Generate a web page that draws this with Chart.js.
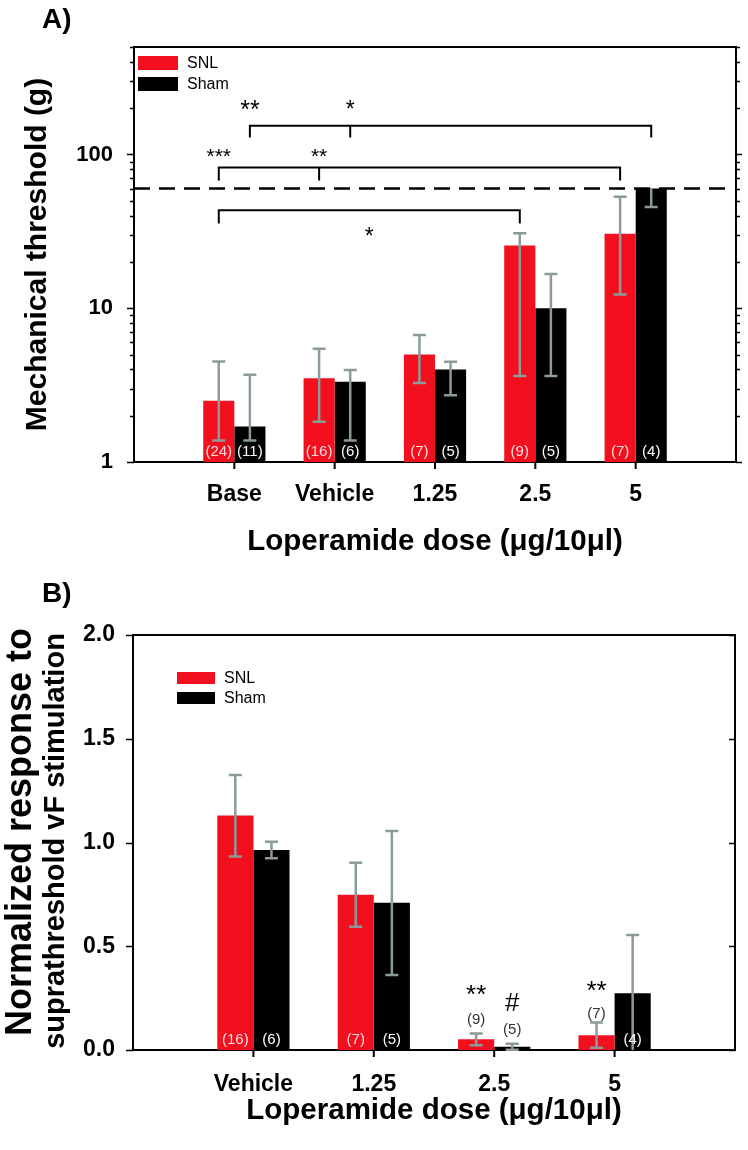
<!DOCTYPE html>
<html>
<head>
<meta charset="utf-8">
<script src="https://cdn.jsdelivr.net/npm/chart.js@4.4.1/dist/chart.umd.min.js"></script>
<style>
  html, body { margin: 0; padding: 0; background: #fff; }
  #page { position: relative; width: 748px; height: 1150px; }
  canvas { position: absolute; left: 0; }
  #chart-a { top: 0; }
  #chart-b { top: 575px; }
</style>
</head>
<body>
<div id="page">
  <canvas id="chart-a" width="748" height="575"></canvas>
  <canvas id="chart-b" width="748" height="575"></canvas>
</div>
<script>
// ---- Panel A: mechanical threshold (log axis) ----
const doseA = ['Base', 'Vehicle', '1.25', '2.5', '5'];
const snlThreshold   = [2.5, 3.5, 5.0, 25.6, 30.5];
const snlThresholdHi = [4.5, 5.45, 6.7, 30.7, 53];
const snlThresholdLo = [1.38, 1.83, 3.27, 3.63, 12.3];
const shamThreshold   = [1.7, 3.33, 4.0, 10.0, 60];
const shamThresholdHi = [3.7, 3.96, 4.48, 16.7, 60];
const shamThresholdLo = [1.38, 1.38, 2.72, 3.63, 45.5];
const snlCountA  = ['(24)', '(16)', '(7)', '(9)', '(7)'];
const shamCountA = ['(11)', '(6)', '(5)', '(5)', '(4)'];
const thresholdTicks = [1, 2, 3, 4, 5, 6, 7, 8, 9, 10, 20, 30, 40, 50, 60, 70, 80, 90, 100, 200, 300, 400, 500];
const thresholdLabels = [1, 10, 100];
const cutoffThreshold = 60;

// brackets of panel A (series 0 = SNL, 1 = Sham; doses are indexes into doseA)
const bracketSeriesA = [1, 0, 0];
const bracketDosesA  = [[0, 1, 4], [0, 1, 4], [0, 3]];
const bracketLevelA  = [154, 82.4, 43.3];
const bracketDropA   = [129, 67.8, 35.6];
const starTextA   = ['**', '*', '***', '**', '*'];
const starSeriesA = [1, 1, 0, 0, 0];
const starDoseA   = [0, 1, 0, 1, 1.5];
const starValueA  = [214, 214, 105, 105, 32.1];
const starSizeA   = [25, 23, 21, 21, 23];

// ---- Panel B: normalized response (linear axis) ----
const doseB = ['Vehicle', '1.25', '2.5', '5'];
const snlResponse   = [1.13, 0.748, 0.052, 0.071];
const snlResponseHi = [1.325, 0.903, 0.079, 0.132];
const snlResponseLo = [0.933, 0.594, 0.023, 0.011];
const shamResponse   = [0.964, 0.71, 0.016, 0.274];
const shamResponseHi = [1.004, 1.055, 0.03, 0.554];
const shamResponseLo = [0.924, 0.361, 0.001, 0];
const snlCountB  = ['(16)', '(7)', '(9)', '(7)'];
const shamCountB = ['(6)', '(5)', '(5)', '(4)'];
const snlCountAtB  = [null, null, 0.145, 0.173];   // null = inside the bar
const shamCountAtB = [null, null, 0.096, null];
const responseTicks = [0, 0.5, 1.0, 1.5, 2.0];
const starTextB   = ['**', '#', '**'];
const starSeriesB = [0, 1, 0];
const starDoseB   = [2, 2, 3];
const starValueB  = [0.299, 0.231, 0.318];

const COLOR_SNL = '#f2101f';
const COLOR_SHAM = '#000000';
const COLOR_ERR = '#8b9a9a';
const FONT = "'Liberation Sans', Arial, sans-serif";
const CAP = 6.5;

const pad = arr => [null, ...arr, null];

// x of the bar of a series at a (possibly fractional) dose index
function barX(chart, series, dose) {
    const x = chart.scales.x;
    const bar = chart.getDatasetMeta(series).data[1];
    const shift = bar.x - x.getPixelForValue(1);
    return x.getPixelForValue(dose + 1) + shift;
}

function drawErrorBars(chart, series, values, hi, lo) {
    const ctx = chart.ctx;
    const y = chart.scales.y;
    const bars = chart.getDatasetMeta(series).data;
    ctx.save();
    ctx.strokeStyle = COLOR_ERR;
    ctx.lineWidth = 2.5;
    values.forEach((v, i) => {
        const x = bars[i + 1].x;
        const yHi = y.getPixelForValue(hi[i]);
        const yLo = lo[i] > 0 ? y.getPixelForValue(lo[i]) : y.bottom;
        ctx.beginPath();
        ctx.moveTo(x, yLo);
        ctx.lineTo(x, yHi);
        if (hi[i] > v) { ctx.moveTo(x - CAP, yHi); ctx.lineTo(x + CAP, yHi); }
        if (lo[i] > 0) { ctx.moveTo(x - CAP, yLo); ctx.lineTo(x + CAP, yLo); }
        ctx.stroke();
    });
    ctx.restore();
}

function drawCounts(chart, series, labels, at, color) {
    const ctx = chart.ctx;
    const bars = chart.getDatasetMeta(series).data;
    ctx.save();
    ctx.font = `15px ${FONT}`;
    ctx.textAlign = 'center';
    ctx.textBaseline = 'middle';
    labels.forEach((t, i) => {
        const x = bars[i + 1].x;
        if (at && at[i] !== null) {
            ctx.fillStyle = '#333';
            ctx.fillText(t, x, chart.scales.y.getPixelForValue(at[i]));
        } else {
            ctx.fillStyle = color;
            ctx.fillText(t, x, chart.chartArea.bottom - 10.5);
        }
    });
    ctx.restore();
}

// symbols centred on their glyph, not on the em box
function drawMark(ctx, text, x, yc, size) {
    ctx.save();
    ctx.fillStyle = '#000';
    ctx.textAlign = 'center';
    ctx.textBaseline = 'alphabetic';
    ctx.font = `${size}px ${FONT}`;
    const lift = text === '#' ? 0.35 : 0.58;
    ctx.fillText(text, x, yc + lift * size);
    ctx.restore();
}

function drawFrame(chart) {
    const ctx = chart.ctx;
    const a = chart.chartArea;
    ctx.save();
    ctx.strokeStyle = '#000';
    ctx.lineWidth = 2;
    ctx.beginPath();
    ctx.moveTo(a.left, a.top);
    ctx.lineTo(a.right, a.top);
    ctx.lineTo(a.right, a.bottom);
    ctx.stroke();
    // category ticks under the x axis
    const x = chart.scales.x;
    ctx.beginPath();
    for (let i = 1; i < chart.data.labels.length - 1; i++) {
        const px = x.getPixelForValue(i);
        ctx.moveTo(px, a.bottom);
        ctx.lineTo(px, a.bottom + 7);
    }
    ctx.stroke();
    ctx.restore();
}

function drawLegend(ctx, x, y, w, h, gap, size) {
    ctx.save();
    ctx.font = `${size}px ${FONT}`;
    ctx.textBaseline = 'middle';
    ctx.textAlign = 'left';
    [['SNL', COLOR_SNL], ['Sham', COLOR_SHAM]].forEach(([t, c], i) => {
        const top = y + i * (h + gap);
        ctx.fillStyle = c;
        ctx.fillRect(x, top, w, h);
        ctx.fillStyle = '#000';
        ctx.fillText(t, x + w + 9, top + h / 2 + 1);
    });
    ctx.restore();
}

function drawTag(ctx, text, x, baseline) {
    ctx.save();
    ctx.font = `bold 28px ${FONT}`;
    ctx.fillStyle = '#000';
    ctx.textBaseline = 'alphabetic';
    ctx.fillText(text, x, baseline);
    ctx.restore();
}

function drawRotated(ctx, text, x, y, size) {
    ctx.save();
    ctx.fillStyle = '#000';
    ctx.textAlign = 'center';
    ctx.textBaseline = 'alphabetic';
    ctx.translate(x, y);
    ctx.rotate(-Math.PI / 2);
    ctx.font = `bold ${size}px ${FONT}`;
    ctx.fillText(text, 0, 0);
    ctx.restore();
}

const panelAPlugin = {
    id: 'panelA',
    afterDraw(chart) {
        const ctx = chart.ctx;
        const a = chart.chartArea;
        const y = chart.scales.y;
        drawFrame(chart);

        // log ticks on both sides
        ctx.save();
        ctx.strokeStyle = '#000';
        ctx.lineWidth = 1.5;
        ctx.beginPath();
        thresholdTicks.forEach(v => {
            const py = Math.round(y.getPixelForValue(v)) + 0.5;
            const major = thresholdLabels.includes(v);
            ctx.moveTo(a.left - (major ? 7 : 4), py);
            ctx.lineTo(a.left, py);
            ctx.moveTo(a.right, py);
            ctx.lineTo(a.right + (major ? 6 : 4), py);
        });
        ctx.stroke();
        ctx.restore();

        drawErrorBars(chart, 0, snlThreshold, snlThresholdHi, snlThresholdLo);
        drawErrorBars(chart, 1, shamThreshold, shamThresholdHi, shamThresholdLo);
        drawCounts(chart, 0, snlCountA, null, 'rgba(255,255,255,0.85)');
        drawCounts(chart, 1, shamCountA, null, '#fff');

        // 60 g cut-off
        ctx.save();
        ctx.strokeStyle = '#000';
        ctx.lineWidth = 2.5;
        ctx.setLineDash([16, 9]);
        const cy = y.getPixelForValue(cutoffThreshold);
        ctx.beginPath();
        ctx.moveTo(a.left, cy);
        ctx.lineTo(a.right - 6, cy);
        ctx.stroke();
        ctx.restore();

        // significance brackets
        ctx.save();
        ctx.strokeStyle = '#000';
        ctx.lineWidth = 2;
        bracketSeriesA.forEach((s, b) => {
            const yl = y.getPixelForValue(bracketLevelA[b]);
            const yd = y.getPixelForValue(bracketDropA[b]);
            const xs = bracketDosesA[b].map(d => barX(chart, s, d));
            ctx.beginPath();
            ctx.moveTo(xs[0], yd);
            ctx.lineTo(xs[0], yl);
            ctx.lineTo(xs[xs.length - 1], yl);
            ctx.lineTo(xs[xs.length - 1], yd);
            xs.slice(1, -1).forEach(px => { ctx.moveTo(px, yl); ctx.lineTo(px, yd); });
            ctx.stroke();
        });
        ctx.restore();
        starTextA.forEach((t, i) => {
            drawMark(ctx, t, barX(chart, starSeriesA[i], starDoseA[i]), y.getPixelForValue(starValueA[i]), starSizeA[i]);
        });

        drawLegend(ctx, 138, 56, 40, 14, 7, 16);
        drawTag(ctx, 'A)', 42, 28);
    }
};

const panelBPlugin = {
    id: 'panelB',
    afterDraw(chart) {
        const ctx = chart.ctx;
        const a = chart.chartArea;
        const y = chart.scales.y;
        drawFrame(chart);

        ctx.save();
        ctx.strokeStyle = '#000';
        ctx.lineWidth = 1.5;
        ctx.beginPath();
        responseTicks.forEach(v => {
            const py = Math.round(y.getPixelForValue(v)) + 0.5;
            ctx.moveTo(a.left - 7, py);
            ctx.lineTo(a.left, py);
            ctx.moveTo(a.right - 6, py);
            ctx.lineTo(a.right, py);
        });
        ctx.stroke();
        ctx.restore();

        drawErrorBars(chart, 0, snlResponse, snlResponseHi, snlResponseLo);
        drawErrorBars(chart, 1, shamResponse, shamResponseHi, shamResponseLo);
        drawCounts(chart, 0, snlCountB, snlCountAtB, 'rgba(255,255,255,0.85)');
        drawCounts(chart, 1, shamCountB, shamCountAtB, '#fff');
        starTextB.forEach((t, i) => {
            drawMark(ctx, t, barX(chart, starSeriesB[i], starDoseB[i]), y.getPixelForValue(starValueB[i]), 26);
        });

        // two-line y title, first line set larger as in the figure
        drawRotated(ctx, 'Normalized response to', 31, 257, 36);
        drawRotated(ctx, 'suprathreshold vF stimulation', 64, 266, 29);

        drawLegend(ctx, 177, 97, 38, 12, 8, 16);
        drawTag(ctx, 'B)', 42, 27);
    }
};

function xAxis(height, tickPad, titlePad) {
    return {
        offset: false,
        grid: { display: false, drawTicks: false, offset: false },
        border: { display: true, color: '#000', width: 2 },
        ticks: {
            color: '#000', autoSkip: false, maxRotation: 0, padding: tickPad,
            font: { family: FONT, size: 23, weight: 'bold' }
        },
        title: {
            display: true, text: 'Loperamide dose (μg/10μl)', color: '#000',
            font: { family: FONT, size: 29.5, weight: 'bold' },
            padding: { top: 0, bottom: titlePad }
        },
        // keep the plot box exactly where the layout padding puts it
        afterFit: s => { s.height = height; s.paddingLeft = 0; s.paddingRight = 0; }
    };
}

function barSets(snl, sham, pct) {
    return [
        { label: 'SNL', data: pad(snl), backgroundColor: COLOR_SNL, categoryPercentage: pct, barPercentage: 1 },
        { label: 'Sham', data: pad(sham), backgroundColor: COLOR_SHAM, categoryPercentage: pct, barPercentage: 1 }
    ];
}

const chartA = new Chart(document.getElementById('chart-a'), {
    type: 'bar',
    data: { labels: ['', ...doseA, ''], datasets: barSets(snlThreshold, shamThreshold, 0.62) },
    options: {
        responsive: false,
        animation: false,
        layout: { padding: { top: 47, right: 12, left: 0, bottom: 0 } },
        plugins: { legend: { display: false }, tooltip: { enabled: false } },
        scales: {
            x: xAxis(113, 19, 15),
            y: {
                type: 'logarithmic',
                min: 1,
                max: 500,
                afterBuildTicks: s => { s.ticks = thresholdTicks.map(v => ({ value: v, major: thresholdLabels.includes(v) })); },
                grid: { display: false, drawTicks: false },
                border: { display: true, color: '#000', width: 2 },
                ticks: {
                    color: '#000', autoSkip: false, padding: 21,
                    font: { family: FONT, size: 22, weight: 'bold' },
                    callback: v => thresholdLabels.includes(v) ? String(v) : ''
                },
                title: {
                    display: true, text: 'Mechanical threshold (g)', color: '#000',
                    font: { family: FONT, size: 30, weight: 'bold' },
                    padding: { top: 20, bottom: 0 }
                },
                afterFit: s => { s.width = 134; }
            }
        }
    },
    plugins: [panelAPlugin]
});

const chartB = new Chart(document.getElementById('chart-b'), {
    type: 'bar',
    data: { labels: ['', ...doseB, ''], datasets: barSets(snlResponse, shamResponse, 0.6) },
    options: {
        responsive: false,
        animation: false,
        layout: { padding: { top: 60, right: 13, left: 0, bottom: 0 } },
        plugins: { legend: { display: false }, tooltip: { enabled: false } },
        scales: {
            x: xAxis(100, 21, 21),
            y: {
                min: 0,
                max: 2,
                afterBuildTicks: s => { s.ticks = responseTicks.map(v => ({ value: v })); },
                grid: { display: false, drawTicks: false },
                border: { display: true, color: '#000', width: 2 },
                ticks: {
                    color: '#000', autoSkip: false, padding: 18,
                    font: { family: FONT, size: 23, weight: 'bold' },
                    callback: v => v.toFixed(1)
                },
                afterFit: s => { s.width = 133; }
            }
        }
    },
    plugins: [panelBPlugin]
});
</script>
</body>
</html>
